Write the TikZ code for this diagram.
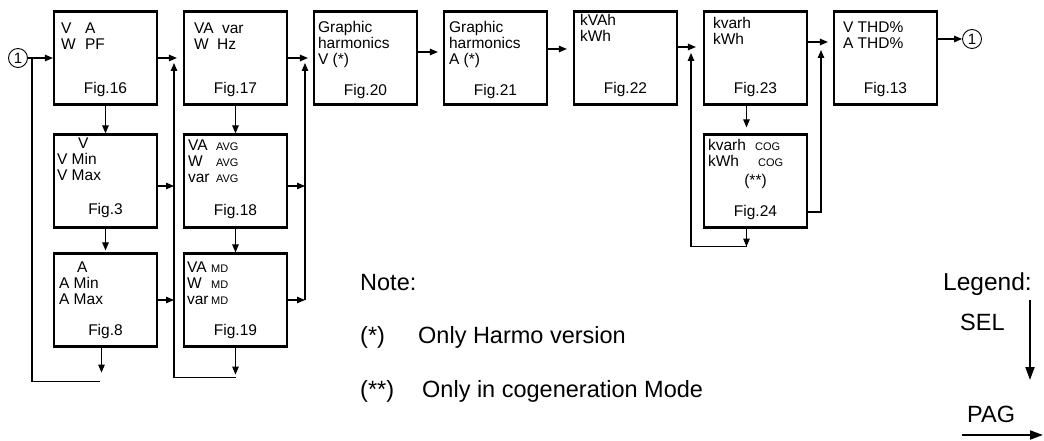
\documentclass[tikz,border=0pt]{standalone}
\usepackage{fontspec}
\setmainfont{Liberation Sans}
\usepackage{tikz}
\usetikzlibrary{arrows.meta,positioning,calc}
\tikzstyle{screen} = [rectangle, draw, line width=2.2pt, minimum width=103pt, minimum height=93pt, inner sep=0pt]
\tikzstyle{txt} = [inner sep=0pt, anchor=north west, align=left, font=\fontsize{15.5}{16}\selectfont]
\tikzstyle{fig} = [inner sep=0pt, anchor=base, font=\fontsize{15.5}{16}\selectfont]
\tikzstyle{marker} = [circle, draw, line width=0.9pt, minimum size=19pt, inner sep=0pt, font=\fontsize{15}{15}\selectfont]
\tikzstyle{note} = [inner sep=0pt, anchor=base west, font=\fontsize{23.5}{24}\selectfont]
\tikzstyle{line} = [draw, line width=1.1pt, -{Triangle[length=8pt, width=6.5pt]}]
\tikzstyle{bus} = [draw, line width=1.1pt]
\tikzstyle{legendarrow} = [draw, line width=2pt, -{Triangle[length=13pt, width=9pt]}]
\newcommand{\smtag}[1]{{\fontsize{11}{11}\selectfont #1}}

\begin{document}
\begin{tikzpicture}[x=1pt, y=-1pt]
	\useasboundingbox (0,0) rectangle (1044,441);

	% First row
	\node [marker] (c1) at (18,58) {1};
	\node [screen] (f16) at (105.5,58) {};
	\node [screen, right of=f16, node distance=130pt] (f17) {};
	\node [screen, right of=f17, node distance=130pt] (f20) {};
	\node [screen, right of=f20, node distance=130pt] (f21) {};
	\node [screen, right of=f21, node distance=130pt] (f22) {};
	\node [screen, right of=f22, node distance=130pt] (f23) {};
	\node [screen, right of=f23, node distance=130pt] (f13) {};
	\node [marker] (c2) at (972,39) {1};

	% Second row
	\node [screen, below of=f16, node distance=123pt] (f3) {};
	\node [screen, below of=f17, node distance=123pt] (f18) {};
	\node [screen, below of=f23, node distance=123pt] (f24) {};

	% Third row
	\node [screen, below of=f3, node distance=119pt] (f8) {};
	\node [screen, below of=f18, node distance=119pt] (f19) {};

	% Texts
	\node [txt] (f16-txt) at ([shift={(8,12)}]f16.north west) {\makebox[24pt][l]{V}A\\\makebox[24pt][l]{W}PF};
	\node [txt] (f17-txt) at ([shift={(11,12)}]f17.north west) {\makebox[28pt][l]{VA}var\\\makebox[23pt][l]{W}Hz};
	\node [txt] (f20-txt) at ([shift={(5,11)}]f20.north west) {Graphic\\harmonics\\V (*)};
	\node [txt] (f21-txt) at ([shift={(6,11)}]f21.north west) {Graphic\\harmonics\\A (*)};
	\node [txt] (f22-txt) at ([shift={(7,4)}]f22.north west) {kVAh\\kWh};
	\node [txt] (f23-txt) at ([shift={(10,7)}]f23.north west) {kvarh\\kWh};
	\node [txt] (f13-txt) at ([shift={(10,11)}]f13.north west) {V THD\%\\A THD\%};
	\node [txt] (f3-txt) at ([shift={(4,4)}]f3.north west) {\hspace*{21pt}V\\V Min\\V Max};
	\node [txt] (f18-txt) at ([shift={(5,6)}]f18.north west) {\makebox[28pt][l]{VA}\smtag{AVG}\\\makebox[28pt][l]{W}\smtag{AVG}\\\makebox[28pt][l]{var}\smtag{AVG}};
	\node [txt] (f24-txt) at ([shift={(5,6)}]f24.north west) {\makebox[47pt][l]{kvarh}\smtag{COG}\\\makebox[50pt][l]{kWh}\smtag{COG}};
	\node [fig] (f24-note) at ([shift={(0,52)}]f24.north) {(**)};
	\node [txt] (f8-txt) at ([shift={(6,9)}]f8.north west) {\hspace*{18pt}A\\A Min\\A Max};
	\node [txt] (f19-txt) at ([shift={(4,9)}]f19.north west) {\makebox[24pt][l]{VA}\smtag{MD}\\\makebox[24pt][l]{W}\smtag{MD}\\\makebox[24pt][l]{var}\smtag{MD}};

	% Figure numbers
	\node [fig] (f16-fig) at ([shift={(0,-12)}]f16.south) {Fig.16};
	\node [fig] (f17-fig) at ([shift={(0,-12)}]f17.south) {Fig.17};
	\node [fig] (f20-fig) at ([shift={(0,-10)}]f20.south) {Fig.20};
	\node [fig] (f21-fig) at ([shift={(0,-10)}]f21.south) {Fig.21};
	\node [fig] (f22-fig) at ([shift={(0,-12)}]f22.south) {Fig.22};
	\node [fig] (f23-fig) at ([shift={(0,-12)}]f23.south) {Fig.23};
	\node [fig] (f13-fig) at ([shift={(0,-12)}]f13.south) {Fig.13};
	\node [fig] (f3-fig) at ([shift={(0,-14)}]f3.south) {Fig.3};
	\node [fig] (f18-fig) at ([shift={(0,-13)}]f18.south) {Fig.18};
	\node [fig] (f24-fig) at ([shift={(0,-12)}]f24.south) {Fig.24};
	\node [fig] (f8-fig) at ([shift={(0,-12)}]f8.south) {Fig.8};
	\node [fig] (f19-fig) at ([shift={(0,-12)}]f19.south) {Fig.19};

	% Notes and legend
	\node [note] (note) at (360,290) {Note:};
	\node [note] (note1-mark) at (360,343) {(*)};
	\node [note] (note1) at (418,343) {Only Harmo version};
	\node [note] (note2-mark) at (360,397) {(**)};
	\node [note] (note2) at (422,397) {Only in cogeneration Mode};
	\node [note, font=\fontsize{24.5}{25}\selectfont] (legend) at (943,290) {Legend:};
	\node [note] (sel) at (960,330) {SEL};
	\node [note] (pag) at (967,422) {PAG};
	\coordinate (sel-a) at (1030,300);
	\coordinate (sel-b) at (1030,380);
	\coordinate (pag-a) at (962,435);
	\coordinate (pag-b) at (1043,435);

	% Bus points
	\coordinate (join1) at (32,58);
	\coordinate (f8-out) at ([shift={(-4,25)}]f8.south);
	\coordinate (loop1) at ([shift={(-6,34)}]f8.south);
	\coordinate (bus2) at (174,63);
	\coordinate (f19-out) at ([shift={(0,27)}]f19.south);
	\coordinate (loop2) at ([shift={(0,30)}]f19.south);
	\coordinate (bus3) at (305,63);
	\coordinate (bus3-foot) at (f19.east -| bus3);
	\coordinate (bus4) at (691,53);
	\coordinate (loop4) at ([shift={(-9,18)}]f24.south);
	\coordinate (bus5) at (821,50);

	% Paths
	\path [line] (c1) -- (f16);
	\path [line] (f16) -- (f3);
	\path [line, shorten >=2pt] (f3) -- (f8);
	\path [line] ([xshift=-4pt]f8.south) -- (f8-out);
	\path [bus] (loop1) -| (join1);
	\path [line, shorten >=6pt] (f16) -- (f17);
	\path [line] ([yshift=-5pt]f3.east) -- ([yshift=-5pt]f3.east -| bus2);
	\path [line] (f8.east) -- (f8.east -| bus2);
	\path [line] (f17) -- (f18);
	\path [line] (f18) -- (f19);
	\path [line] (f19) -- (f19-out);
	\path [line] (loop2) -| (bus2);
	\path [line, shorten >=5pt] (f17) -- (f20);
	\path [line] ([yshift=-5pt]f18.east) -- ([yshift=-5pt]f18.east -| bus3);
	\path [line] (f19.east) -- (bus3-foot);
	\path [line] (bus3-foot) -- (bus3);
	\path [line, shorten >=5pt] ([yshift=6pt]f20.east) -- ([yshift=6pt]f21.west);
	\path [line, shorten >=6pt] ([yshift=9pt]f21.east) -- ([yshift=9pt]f22.west);
	\path [line, shorten >=7pt] ([yshift=11pt]f22.east) -- ([yshift=11pt]f23.west);
	\path [line, shorten >=6pt] ([xshift=-9pt]f23.south) -- ([xshift=-9pt]f24.north);
	\path [line] ([xshift=-9pt]f24.south) -- (loop4);
	\path [line] (loop4) -| (bus4);
	\path [line, shorten >=5pt] ([yshift=16pt]f23.east) -- ([yshift=16pt]f13.west);
	\path [line] ([yshift=-31pt]f24.east) -| (bus5);
	\path [line] ([yshift=19pt]f13.east) -- (c2);
	\path [legendarrow] (sel-a) -- (sel-b);
	\path [legendarrow] (pag-a) -- (pag-b);
\end{tikzpicture}
\end{document}
